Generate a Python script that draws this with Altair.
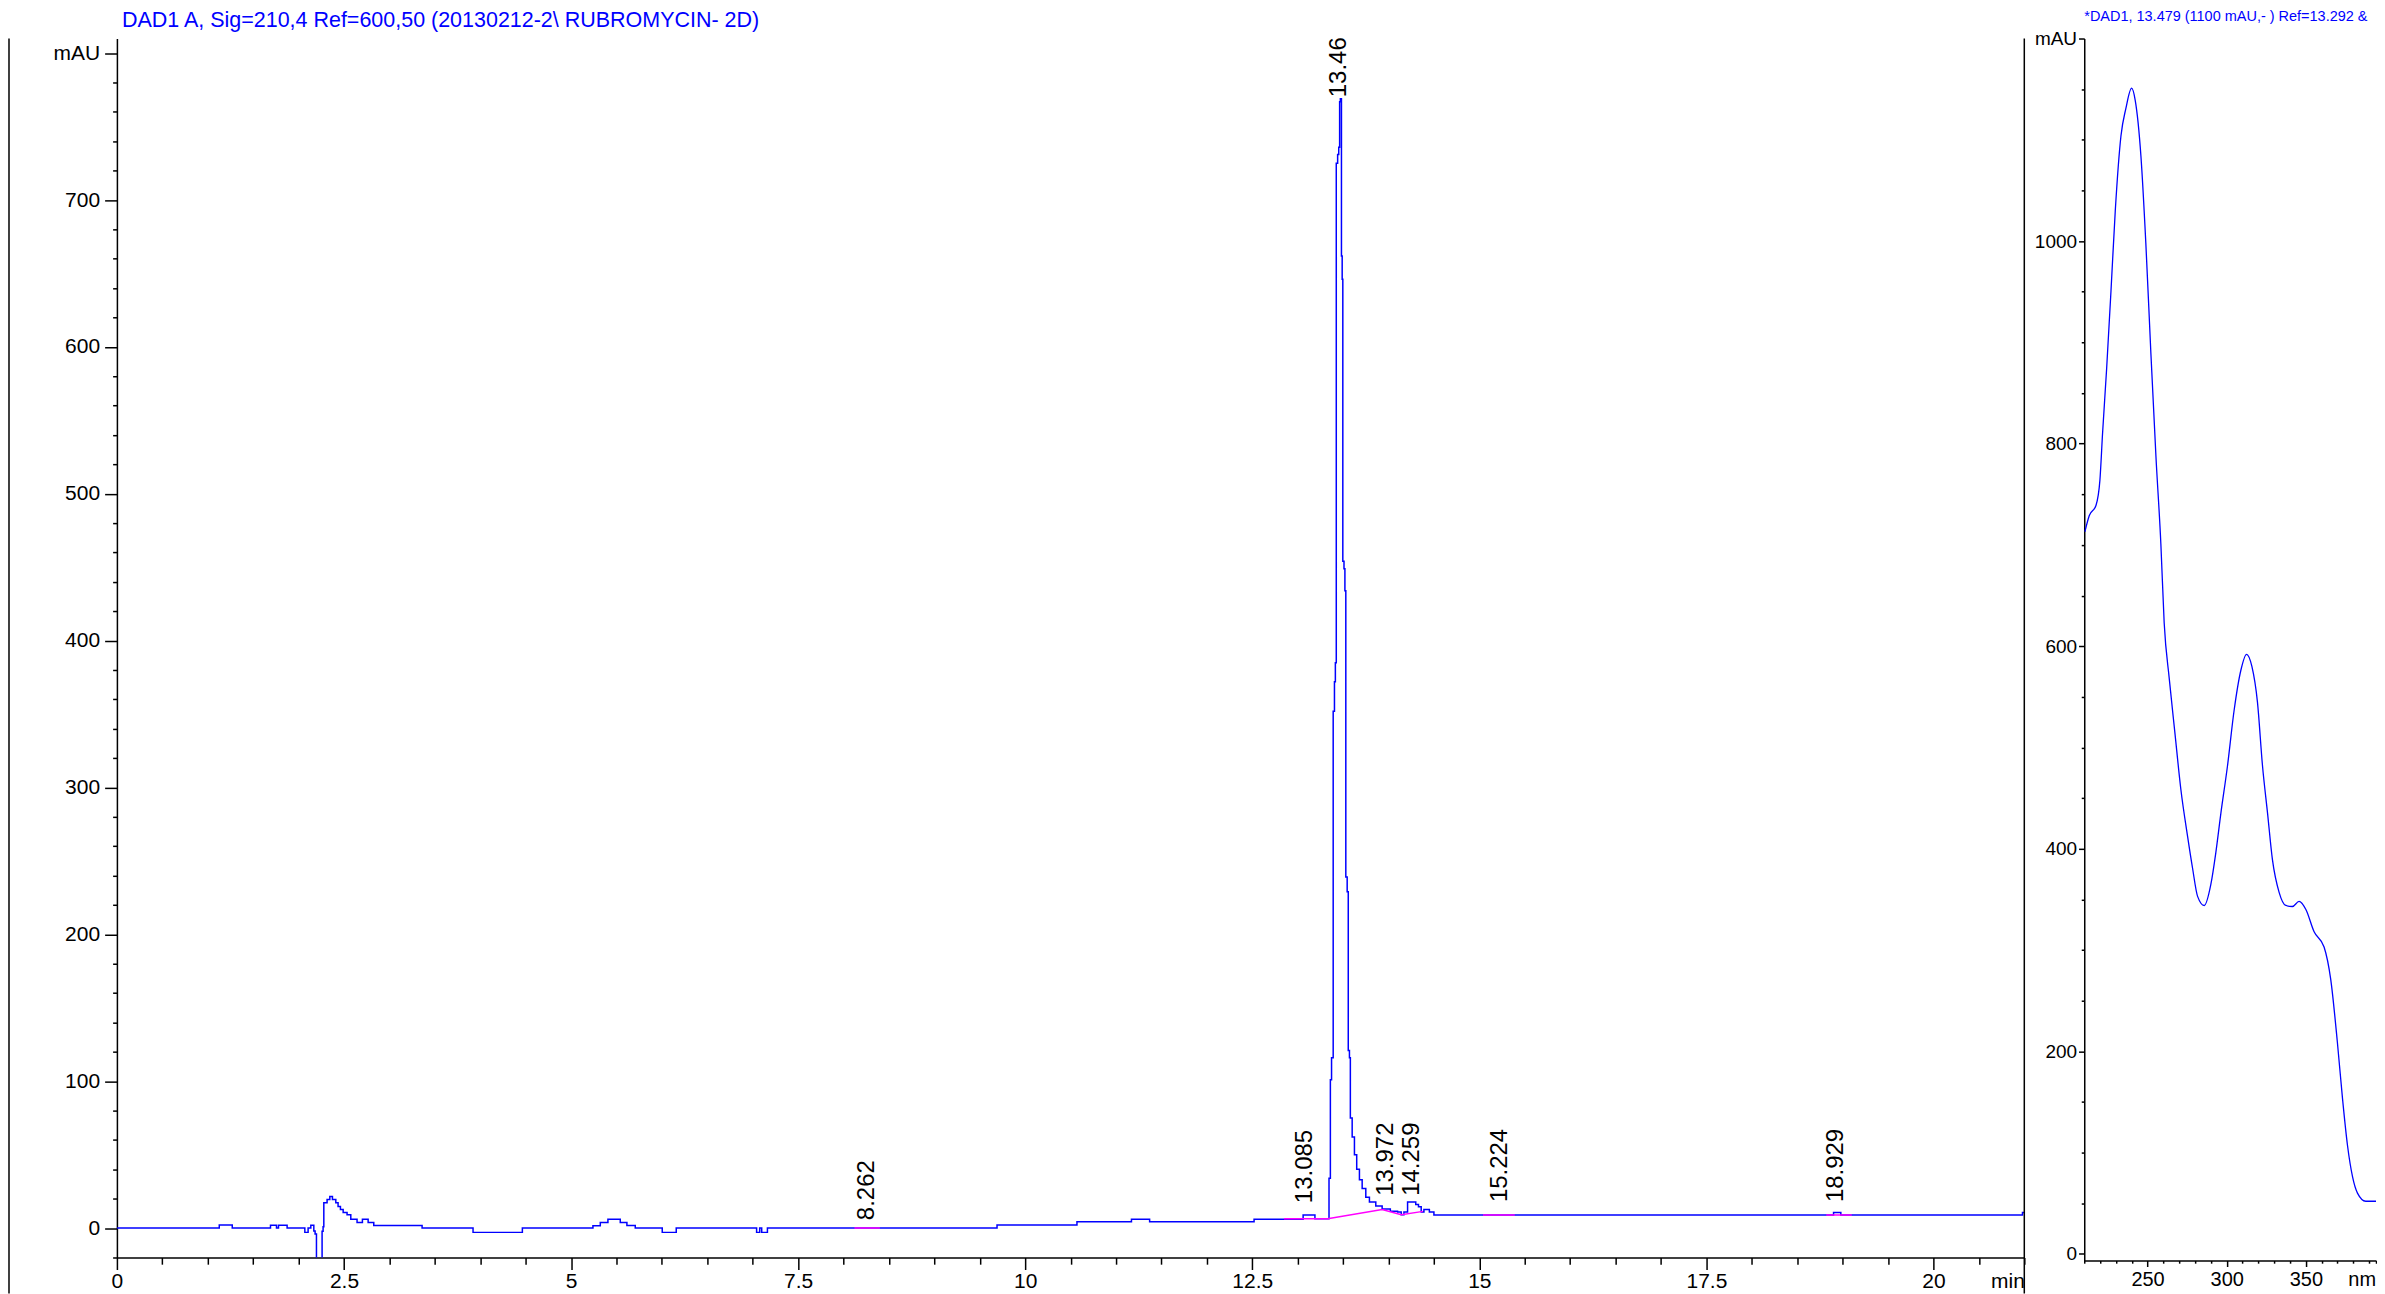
import altair as alt
import pandas as pd

# ---------------- data ----------------
# chromatogram (retention time in min, signal in mAU), drawn as steps
rt = [0.0, 1.127, 1.27, 1.691, 1.757, 1.779, 1.874, 2.069, 2.105, 2.135, 2.168, 2.182,
      2.197, 2.259, 2.27, 2.278, 2.314, 2.344, 2.373, 2.41, 2.435, 2.461, 2.491, 2.534,
      2.575, 2.644, 2.703, 2.766, 2.828, 3.36, 3.921, 4.464, 5.241, 5.322, 5.406, 5.542,
      5.615, 5.707, 6.004, 6.158, 7.043, 7.077, 7.099, 7.162, 9.69, 10.57, 11.17, 11.37,
      12.52, 13.06, 13.19, 13.345, 13.36, 13.373, 13.391, 13.405, 13.415, 13.425, 13.44,
      13.452, 13.462, 13.47, 13.482, 13.49, 13.497, 13.51, 13.52, 13.53, 13.545, 13.557,
      13.57, 13.58, 13.6, 13.625, 13.65, 13.68, 13.71, 13.75, 13.79, 13.86, 13.93, 14.02,
      14.1, 14.14, 14.17, 14.21, 14.3, 14.33, 14.36, 14.39, 14.45, 14.5, 18.9, 18.98,
      20.98, 21.0]
sig = [0.0, 2.1, 0.0, 2.0, 0.0, 2.0, 0.0, -2.9, 0.0, 2.0, -2.0, -4.0,
       -60.0, -2.2, 0.9, 17.2, 19.5, 21.6, 19.5, 17.2, 14.8, 12.7, 10.7, 9.1,
       6.1, 3.9, 6.1, 3.9, 1.8, 0.0, -2.9, 0.0, 1.6, 3.9, 6.1, 3.9,
       1.8, 0.0, -2.9, 0.0, -2.9, 0.0, -2.9, 0.0, 2.2, 4.3, 6.1, 4.3,
       6.1, 9.0, 6.3, 34.0, 101.0, 116.0, 352.0, 372.0, 385.0, 725.0, 731.0,
       736.0, 767.0, 769.0, 662.0, 646.0, 454.0, 449.0, 434.0, 239.0, 229.0, 121.0,
       116.0, 75.0, 62.0, 50.0, 40.0, 33.0, 27.0, 21.0, 17.8, 15.1, 13.1, 11.5,
       11.0, 9.1, 11.0, 17.7, 16.0, 14.5, 11.0, 12.7, 11.0, 9.0, 10.7, 9.0,
       10.7, 10.7]

# peak retention-time labels
peak_labels = ["8.262", "13.085", "13.46", "13.972", "14.259", "15.224", "18.929"]
peak_t = [8.262, 13.085, 13.46, 13.972, 14.259, 15.224, 18.929]
peak_label_y = [5.4, 17.0, 770.0, 22.0, 22.0, 17.7, 17.7]

# integration baselines (magenta)
bl_seg = ["a", "a", "b", "b", "b", "b", "b", "c", "c", "d", "d"]
bl_t = [8.12, 8.40, 12.85, 13.33, 13.93, 14.14, 14.38, 15.04, 15.39, 18.82, 19.10]
bl_v = [0.0, 0.0, 6.3, 6.3, 12.7, 9.1, 11.4, 9.0, 9.0, 9.0, 9.0]

# UV spectrum (wavelength nm, absorbance mAU)
wl = [210.4, 213.2, 217.4, 219.9, 221.6, 224.1, 226.9, 229.6, 233.2, 236.3, 239.9,
      242.2, 245.8, 248.9, 252.1, 255.3, 258.4, 260.5, 263.7, 267.3, 271.0, 275.3,
      278.4, 281.6, 285.8, 290.0, 293.1, 296.3, 300.5, 304.7, 308.9, 312.5, 315.9,
      319.4, 322.6, 325.8, 328.9, 333.1, 337.3, 341.5, 345.7, 350.0, 355.2, 361.5,
      365.7, 369.9, 373.1, 376.3, 379.5, 382.6, 387.8, 394.3]
absorb = [713, 729, 739, 764, 811, 873, 951, 1030, 1104, 1131, 1151,
          1139, 1084, 998, 889, 787, 701, 623, 568, 514, 459, 412,
          381, 353, 344, 365, 396, 435, 482, 537, 576, 592, 580,
          545, 482, 435, 389, 357, 344, 343, 348, 340, 318, 303,
          271, 209, 154, 107, 76, 60, 52, 52]

main_title = "DAD1 A, Sig=210,4 Ref=600,50 (20130212-2\\ RUBROMYCIN- 2D)"
spec_title = "*DAD1, 13.479 (1100 mAU,- ) Ref=13.292 &"

# tick positions
x_ticks = [i * 0.5 for i in range(43)]                 # 0 .. 21 min
y_ticks = [-20 + 20 * i for i in range(42)]             # -20 .. 800 mAU
sx_ticks = [210 + 10 * i for i in range(19)] + [394]    # 210 .. 390 nm, unit at the end
sy_ticks = [50 * i for i in range(25)]                  # 0 .. 1200 mAU

# ---------------- style ----------------
BLUE = "#0000ff"
MAG = "#ff00ff"
FONT = "Liberation Sans"
MAIN_W, MAIN_H = 1909, 1220
SPEC_W, SPEC_H = 292, 1223
MAIN_EXT = 109


def dash(minor_len, test):
    return {"condition": {"test": test, "value": [3000, 0]}, "value": [minor_len, 3000]}


x_scale = alt.Scale(domain=[0, 21], nice=False, zero=False)
y_scale = alt.Scale(domain=[-20, 810], nice=False, zero=False)

x_axis = alt.Axis(
    values=x_ticks, title=None, grid=False,
    domainColor="black", domainWidth=1.5, tickColor="black", tickWidth=1.5, tickSize=12,
    tickDash=dash(6.7, "datum.value % 2.5 === 0"),
    labelExpr="datum.value === 21 ? 'min' : (datum.value % 2.5 === 0 ? '' + datum.value : '')",
    labelAlign={"condition": {"test": "datum.value === 21", "value": "right"}, "value": "center"},
    labelFont=FONT, labelFontSize=21, labelColor="black", labelPadding=1,
    labelOverlap=False, labelFlush=False,
)
y_axis = alt.Axis(
    values=y_ticks, title=None, grid=False,
    domainColor="black", domainWidth=1.5, tickColor="black", tickWidth=1.5, tickSize=12.3,
    tickDash=dash(4.3, "datum.value % 100 === 0"),
    labelExpr="datum.value === 800 ? 'mAU' : (datum.value % 100 === 0 && datum.value >= 0 ? '' + datum.value : '')",
    labelFont=FONT, labelFontSize=21, labelColor="black", labelPadding=5,
    labelOverlap=False, minExtent=MAIN_EXT, maxExtent=MAIN_EXT,
)
X = alt.X("t:Q", scale=x_scale, axis=x_axis)
Y = alt.Y("v:Q", scale=y_scale, axis=y_axis)

trace_df = pd.DataFrame({"t": rt, "v": sig})
lab_df = pd.DataFrame({"t": peak_t, "v": peak_label_y, "label": peak_labels})
bl_df = pd.DataFrame({"seg": bl_seg, "t": bl_t, "v": bl_v})
one = pd.DataFrame({"k": [0]})

trace = alt.Chart(trace_df).mark_line(
    color=BLUE, strokeWidth=1.5, interpolate="step-after", clip=True
).encode(x=X, y=Y)

baselines = alt.Chart(bl_df).mark_line(color=MAG, strokeWidth=1.5, clip=True).encode(
    x=X, y=Y, detail="seg:N"
)

labels = alt.Chart(lab_df).mark_text(
    angle=270, align="left", baseline="middle", font=FONT, fontSize=24, color="black"
).encode(x=X, y=Y, text="label:N")

sep = alt.Chart(one).mark_rule(color="black", strokeWidth=1.5).encode(
    x=alt.value(MAIN_W), y=alt.value(0), y2=alt.value(MAIN_H + 36)
)
left_edge = alt.Chart(one).mark_rule(color="black", strokeWidth=1.5).encode(
    x=alt.value(-MAIN_EXT + 1), y=alt.value(0), y2=alt.value(MAIN_H + 36)
)

main = alt.layer(trace, baselines, labels, sep, left_edge).properties(
    width=MAIN_W, height=MAIN_H,
    title=alt.TitleParams(
        main_title, anchor="start", frame="group", dx=5, offset=-16, baseline="bottom",
        font=FONT, fontSize=21.5, fontWeight="normal", color=BLUE,
    ),
)

sx_axis = alt.Axis(
    values=sx_ticks, title=None, grid=False,
    domainColor="black", domainWidth=1.5, tickColor="black", tickWidth=1.5, tickSize=6,
    tickDash=dash(2.7, "datum.value % 50 === 0"),
    labelExpr="datum.value === 394 ? 'nm' : (datum.value % 50 === 0 ? '' + datum.value : '')",
    labelAlign={"condition": {"test": "datum.value === 394", "value": "right"}, "value": "center"},
    labelFont=FONT, labelFontSize=20, labelColor="black", labelPadding=3,
    labelOverlap=False, labelFlush=False,
)
sy_axis = alt.Axis(
    values=sy_ticks, title=None, grid=False,
    domainColor="black", domainWidth=1.5, tickColor="black", tickWidth=1.5, tickSize=5.7,
    tickDash=dash(3, "datum.value % 200 === 0"),
    labelExpr="datum.value === 1200 ? 'mAU' : (datum.value % 200 === 0 ? '' + datum.value : '')",
    labelFont=FONT, labelFontSize=19, labelColor="black", labelPadding=2,
    labelOverlap=False, minExtent=59, maxExtent=59,
)

spec_df = pd.DataFrame({"wl": wl, "a": absorb})
spectrum = alt.Chart(spec_df).mark_line(
    color=BLUE, strokeWidth=1.3, interpolate="monotone", clip=True
).encode(
    x=alt.X("wl:Q", scale=alt.Scale(domain=[210, 394.3], nice=False, zero=False), axis=sx_axis),
    y=alt.Y("a:Q", scale=alt.Scale(domain=[-6.5, 1200], nice=False, zero=False), axis=sy_axis),
).properties(
    width=SPEC_W, height=SPEC_H,
    title=alt.TitleParams(
        spec_title, anchor="start", frame="group", offset=-9, baseline="bottom",
        font=FONT, fontSize=14.5, fontWeight="normal", color=BLUE,
    ),
)

chart = alt.hconcat(main, spectrum, spacing=0).properties(
    padding=0, background="white"
).configure_view(stroke=None)

chart.save("out.html", embed_options={"renderer": "svg", "actions": False})
